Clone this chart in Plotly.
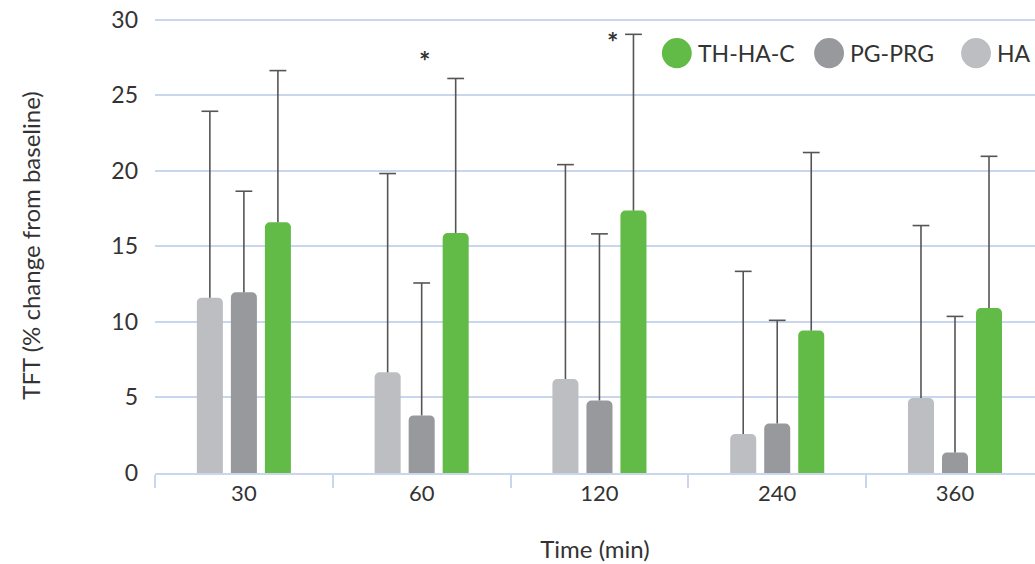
import plotly.graph_objects as go

times = ["30", "60", "120", "240", "360"]
series_names = ["HA", "PG-PRG", "TH-HA-C"]
ha_mean = [11.6, 6.66, 6.22, 2.58, 4.96]
ha_err = [12.33, 13.15, 14.18, 10.76, 11.41]
pg_mean = [11.95, 3.81, 4.8, 3.28, 1.36]
pg_err = [6.69, 8.76, 11.02, 6.82, 9.0]
th_mean = [16.59, 15.88, 17.36, 9.42, 10.92]
th_err = [10.03, 10.22, 11.66, 11.78, 10.03]
sig_times = ["60", "120"]
sig_y = [27.6, 28.9]

colors = {"HA": "#bdbec2", "PG-PRG": "#98999d", "TH-HA-C": "#62bb46"}
means = {"HA": ha_mean, "PG-PRG": pg_mean, "TH-HA-C": th_mean}
errs = {"HA": ha_err, "PG-PRG": pg_err, "TH-HA-C": th_err}

FONT = "Lato, 'Open Sans', sans-serif"
GRID = "#c9d6ec"
TXT = "#333333"
ERRC = "#555555"

fig = go.Figure()
for name in series_names:
    # bars with a one-sided (upper) error line, no caps
    fig.add_trace(go.Bar(
        x=times, y=means[name], name=name, offsetgroup=name,
        marker=dict(color=colors[name], line=dict(width=0)),
        error_y=dict(type="data", symmetric=False, array=errs[name],
                     arrayminus=[0] * len(times), color=ERRC,
                     thickness=1.6, width=0),
        showlegend=False, hoverinfo="x+y",
    ))
for name in series_names:
    # caps at the top of each error line
    tops = [m + e for m, e in zip(means[name], errs[name])]
    fig.add_trace(go.Scatter(
        x=times, y=tops, mode="markers", offsetgroup=name,
        marker=dict(symbol="line-ew", size=12, color=ERRC,
                    line=dict(color=ERRC, width=1.6)),
        showlegend=False, hoverinfo="skip",
    ))

# significance markers (x given as category index)
for t, yv, xs in zip(sig_times, sig_y, [3, 13]):
    fig.add_annotation(x=times.index(t), y=yv, xref="x", yref="y", text="<b>*</b>", showarrow=False,
                       xshift=xs, yshift=-5, font=dict(size=27, color=TXT, family=FONT))

# manual legend with large circles (legend order: TH-HA-C, PG-PRG, HA)
leg_items = ["TH-HA-C", "PG-PRG", "HA"]
circ_x0 = [0.576, 0.749, 0.916]
circ_w = 0.034
for name, x0 in zip(leg_items, circ_x0):
    fig.add_shape(type="circle", xref="paper", yref="paper",
                  x0=x0, x1=x0 + circ_w, y0=0.8897, y1=0.956,
                  fillcolor=colors[name], line=dict(width=0))
    fig.add_annotation(xref="paper", yref="paper", x=x0 + circ_w + 0.005, y=0.9228,
                       xanchor="left", yanchor="middle", text=name, showarrow=False,
                       font=dict(size=23, color=TXT, family=FONT))

fig.update_layout(
    width=1035, height=564,
    margin=dict(l=155, r=0, t=18, b=91),
    paper_bgcolor="white", plot_bgcolor="white",
    barmode="group", bargap=0.426, bargroupgap=0.235,
    scattermode="group", scattergap=0.426,
    barcornerradius=5,
    font=dict(family=FONT, color=TXT, size=22),
    xaxis=dict(type="category", range=[-0.5, 4.45],
               showline=True, linecolor=GRID, linewidth=1.5,
               ticks="outside", tickson="boundaries", ticklen=13, tickcolor=GRID, tickwidth=1.5,
               showgrid=False, zeroline=False,
               tickfont=dict(size=22, color=TXT, family=FONT),
               title=dict(text="Time (min)", font=dict(size=24, color=TXT, family=FONT), standoff=36)),
    yaxis=dict(range=[0, 30.1], tickvals=[0, 5, 10, 15, 20, 25, 30],
               showgrid=True, gridcolor=GRID, gridwidth=1.5,
               zeroline=False, showline=False, ticks="",
               ticklabelstandoff=16,
               tickfont=dict(size=23, color=TXT, family=FONT),
               title=dict(text="TFT (% change from baseline)", font=dict(size=24, color=TXT, family=FONT), standoff=63)),
)

fig.write_html("out.html", config={"displayModeBar": False},
               post_script="document.body.style.margin='0px';")
